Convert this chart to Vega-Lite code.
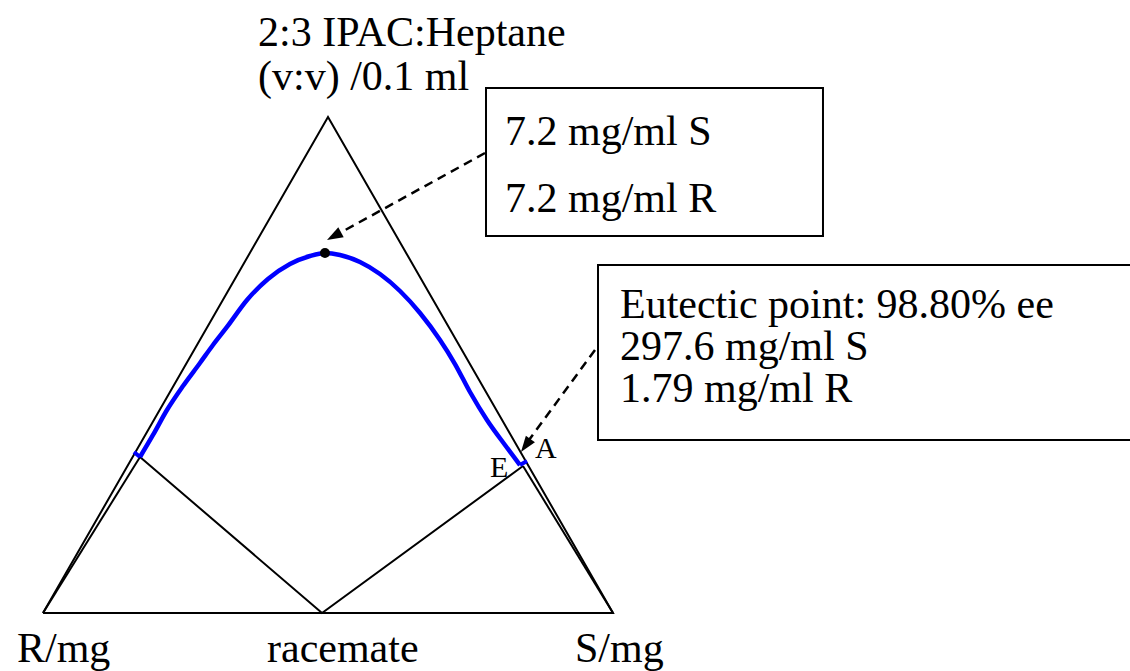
{
  "$schema": "https://vega.github.io/schema/vega-lite/v6.json",
  "width": 1130,
  "height": 671,
  "autosize": {"type": "none"},
  "padding": 0,
  "background": "white",
  "config": {"view": {"stroke": null}, "font": "Liberation Serif"},
  "datasets": {
    "frame": [
      {"path": "outer", "i": 0, "x": 0, "y": 0},
      {"path": "outer", "i": 1, "x": 0.5, "y": 0.8702},
      {"path": "outer", "i": 2, "x": 1, "y": 0},
      {"path": "outer", "i": 3, "x": 0, "y": 0},
      {"path": "innerL", "i": 0, "x": 0, "y": 0},
      {"path": "innerL", "i": 1, "x": 0.1702, "y": 0.2737},
      {"path": "innerR", "i": 0, "x": 1, "y": 0},
      {"path": "innerR", "i": 1, "x": 0.8421, "y": 0.2579},
      {"path": "tie", "i": 0, "x": 0.1702, "y": 0.2737},
      {"path": "tie", "i": 1, "x": 0.4895, "y": 0},
      {"path": "tie", "i": 2, "x": 0.8421, "y": 0.2579}
    ],
    "solubility": [
      {"i": 0, "x": 0.1702, "y": 0.2737},
      {"i": 1, "x": 0.1930, "y": 0.3123},
      {"i": 2, "x": 0.2175, "y": 0.3561},
      {"i": 3, "x": 0.2456, "y": 0.3982},
      {"i": 4, "x": 0.2754, "y": 0.4386},
      {"i": 5, "x": 0.2982, "y": 0.4702},
      {"i": 6, "x": 0.3228, "y": 0.5018},
      {"i": 7, "x": 0.3579, "y": 0.5491},
      {"i": 8, "x": 0.3947, "y": 0.5860},
      {"i": 9, "x": 0.4333, "y": 0.6123},
      {"i": 10, "x": 0.4684, "y": 0.6263},
      {"i": 11, "x": 0.4947, "y": 0.6316},
      {"i": 12, "x": 0.5211, "y": 0.6281},
      {"i": 13, "x": 0.5561, "y": 0.6158},
      {"i": 14, "x": 0.5912, "y": 0.5947},
      {"i": 15, "x": 0.6263, "y": 0.5649},
      {"i": 16, "x": 0.6614, "y": 0.5263},
      {"i": 17, "x": 0.6965, "y": 0.4789},
      {"i": 18, "x": 0.7228, "y": 0.4368},
      {"i": 19, "x": 0.7491, "y": 0.3877},
      {"i": 20, "x": 0.7789, "y": 0.3386},
      {"i": 21, "x": 0.8105, "y": 0.2947},
      {"i": 22, "x": 0.8368, "y": 0.2596}
    ],
    "ends": [
      {"x": 0.1596, "y": 0.2825, "x2": 0.1702, "y2": 0.2737},
      {"x": 0.8368, "y": 0.2596, "x2": 0.8491, "y2": 0.2667}
    ],
    "peak": [{"x": 0.4947, "y": 0.6316}],
    "boxes": [
      {"x": 0.7772, "x2": 1.3684, "y": 0.9211, "y2": 0.6614},
      {"x": 0.9737, "x2": 1.9246, "y": 0.6105, "y2": 0.3035}
    ],
    "arrows": [
      {"x": 0.7754, "y": 0.8070, "x2": 0.5198, "y2": 0.6661},
      {"x": 0.9684, "y": 0.4614, "x2": 0.8526, "y2": 0.3035}
    ],
    "heads": [
      {"x": 0.5105, "y": 0.6612, "angle": 241.2},
      {"x": 0.8468, "y": 0.2939, "angle": 216.1}
    ],
    "labels": [
      {"x": 0.3772, "y": 0.9947, "text": "2:3 IPAC:Heptane"},
      {"x": 0.3772, "y": 0.9175, "text": "(v:v) /0.1 ml"},
      {"x": 0.8105, "y": 0.8211, "text": "7.2 mg/ml S"},
      {"x": 0.8105, "y": 0.7035, "text": "7.2 mg/ml R"},
      {"x": 1.0123, "y": 0.5175, "text": "Eutectic point: 98.80% ee"},
      {"x": 1.0123, "y": 0.4439, "text": "297.6 mg/ml S"},
      {"x": 1.0123, "y": 0.3702, "text": "1.79 mg/ml R"},
      {"x": -0.0456, "y": -0.0860, "text": "R/mg"},
      {"x": 0.3930, "y": -0.0860, "text": "racemate"},
      {"x": 0.9333, "y": -0.0860, "text": "S/mg"}
    ],
    "points": [
      {"x": 0.8632, "y": 0.2719, "text": "A"},
      {"x": 0.7842, "y": 0.2386, "text": "E"}
    ]
  },
  "encoding": {
    "x": {"field": "x", "type": "quantitative", "axis": null,
          "scale": {"domain": [-0.075439, 1.907018], "nice": false, "zero": false}},
    "y": {"field": "y", "type": "quantitative", "axis": null,
          "scale": {"domain": [-0.101754, 1.075439], "nice": false, "zero": false}}
  },
  "layer": [
    {
      "data": {"name": "frame"},
      "mark": {"type": "line", "color": "black", "strokeWidth": 2, "strokeJoin": "miter"},
      "encoding": {"detail": {"field": "path"}, "order": {"field": "i", "type": "quantitative"}}
    },
    {
      "data": {"name": "boxes"},
      "mark": {"type": "rect", "fill": "white", "stroke": "black", "strokeWidth": 2, "clip": true},
      "encoding": {"x2": {"field": "x2"}, "y2": {"field": "y2"}}
    },
    {
      "data": {"name": "solubility"},
      "mark": {"type": "line", "color": "#0000ff", "strokeWidth": 4.5, "interpolate": "monotone"},
      "encoding": {"order": {"field": "i", "type": "quantitative"}}
    },
    {
      "data": {"name": "ends"},
      "mark": {"type": "rule", "color": "#0000ff", "strokeWidth": 4},
      "encoding": {"x2": {"field": "x2"}, "y2": {"field": "y2"}}
    },
    {
      "data": {"name": "peak"},
      "mark": {"type": "point", "filled": true, "color": "black", "size": 100, "opacity": 1},
      "encoding": {}
    },
    {
      "data": {"name": "arrows"},
      "mark": {"type": "rule", "color": "black", "strokeWidth": 2.5, "strokeDash": [9, 6]},
      "encoding": {"x2": {"field": "x2"}, "y2": {"field": "y2"}}
    },
    {
      "data": {"name": "heads"},
      "mark": {"type": "point", "shape": "M0,-1L0.7,1L-0.7,1Z", "filled": true, "color": "black", "size": 256, "opacity": 1},
      "encoding": {"angle": {"field": "angle", "type": "quantitative", "scale": null}}
    },
    {
      "data": {"name": "labels"},
      "mark": {"type": "text", "align": "left", "baseline": "alphabetic", "fontSize": 42, "font": "Liberation Serif", "color": "black"},
      "encoding": {"text": {"field": "text"}}
    },
    {
      "data": {"name": "points"},
      "mark": {"type": "text", "align": "left", "baseline": "alphabetic", "fontSize": 30, "font": "Liberation Serif", "color": "black"},
      "encoding": {"text": {"field": "text"}}
    }
  ]
}
